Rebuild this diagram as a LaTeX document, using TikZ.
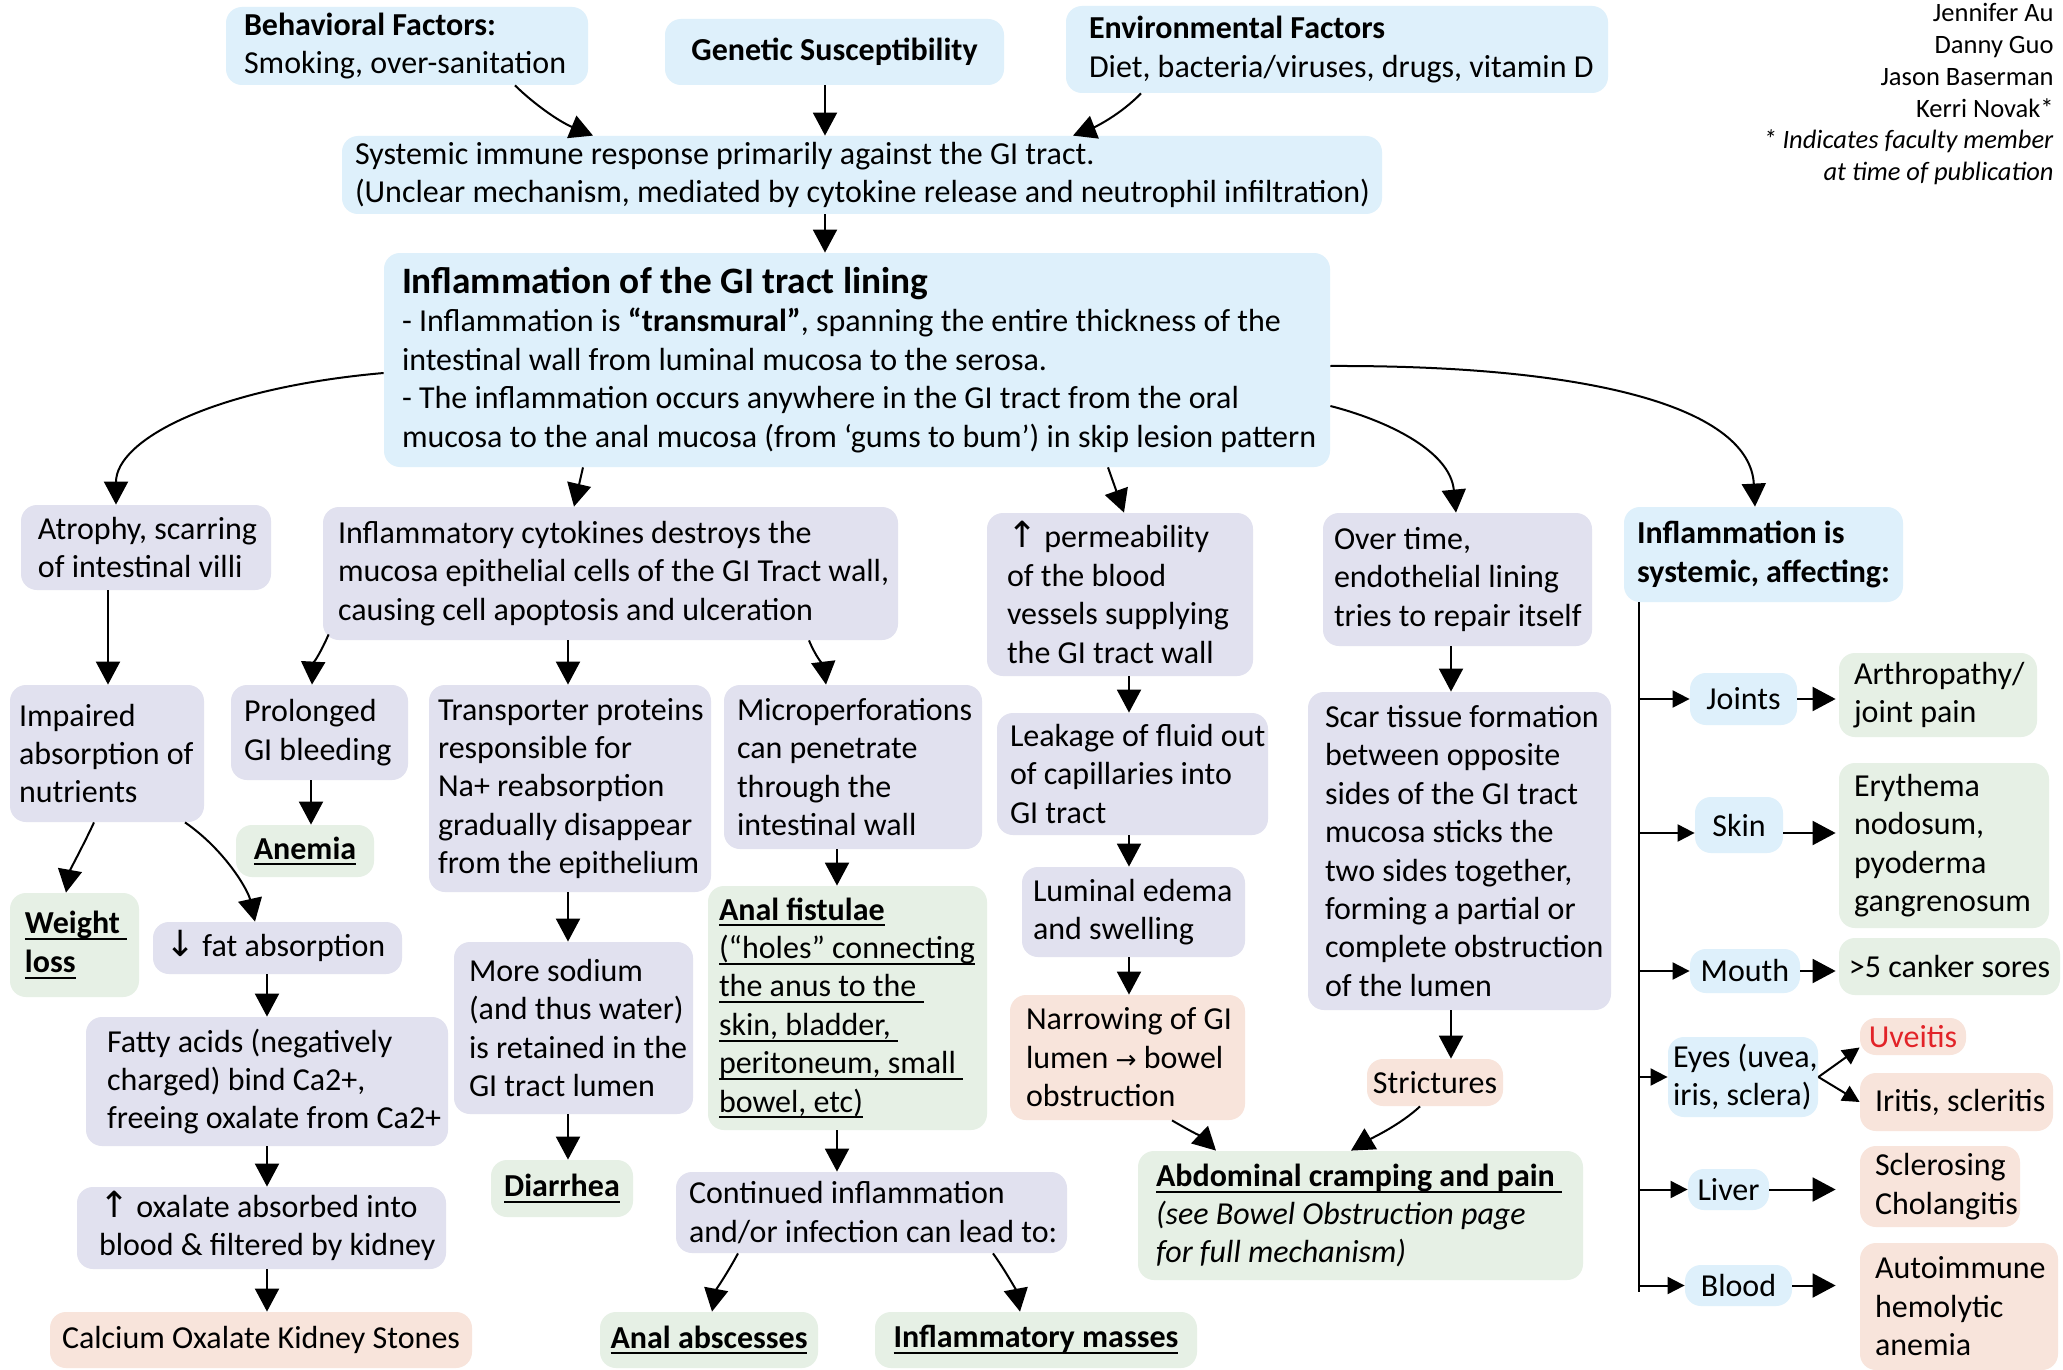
\documentclass[tikz,border=0pt]{standalone}
\usepackage{fontspec}
\setmainfont{Carlito}
\newfontfamily\arrfont{DejaVu Sans}
\newsavebox\ulbox
\newcommand\uline[1]{\sbox\ulbox{#1}\rlap{\rule[-3.2pt]{\wd\ulbox}{1pt}}\usebox\ulbox}
\usetikzlibrary{arrows.meta,calc}
\definecolor{cBlue}{RGB}{222,240,251}
\definecolor{cLav}{RGB}{225,225,239}
\definecolor{cGreen}{RGB}{230,240,229}
\definecolor{cPeach}{RGB}{248,228,219}
\definecolor{cRed}{RGB}{226,35,40}
\newcommand\upar{\smash{\arrfont\fontsize{18}{19}\selectfont ↑}}
\newcommand\dnar{\smash{\arrfont\fontsize{18}{19}\selectfont ↓}}
\newcommand\rtar{{\arrfont\fontsize{12.5}{14}\selectfont →}}
\tikzset{
  box/.style={rounded corners=8pt, inner sep=0pt, draw=none},
  txt/.style={inner sep=0pt, align=left, font=\fontsize{16}{19.2}\selectfont},
  arr/.style={-{Triangle[length=11.5pt,width=12pt]}, line width=1pt},
  sarr/.style={-{Triangle[length=8.5pt,width=8.5pt]}, line width=1pt},
  plainline/.style={line width=1pt},
}
\newcommand\mybox[8][14]{%
  \pgfmathsetmacro\bxw{(#6-#4)*0.5}%
  \pgfmathsetmacro\bxh{(#7-#5)*0.5}%
  \pgfmathsetmacro\bxp{#1*0.5}%
  \node[box,fill=#3,minimum width=\bxw pt,minimum height=\bxh pt] (#2) at ({(#4+#6)/2},{(#5+#7)/2}) {};%
  \node[txt,anchor=west] (#2t) at ([xshift=\bxp pt]#2.west) {#8};%
}
\newcommand\mycbox[8][]{%
  \pgfmathsetmacro\bxw{(#6-#4)*0.5}%
  \pgfmathsetmacro\bxh{(#7-#5)*0.5}%
  \node[box,fill=#3,minimum width=\bxw pt,minimum height=\bxh pt] (#2) at ({(#4+#6)/2},{(#5+#7)/2}) {};%
  \node[txt,align=center,#1] (#2t) at (#2.center) {#8};%
}
\begin{document}
\begin{tikzpicture}[x=0.5pt,y=-0.5pt]
\fill[white] (0,0) rectangle (2063,1370);
\useasboundingbox (0,0) rectangle (2063,1370);

% top row
\mybox[18]{beh}{cBlue}{226}{7}{588}{85}{\textbf{Behavioral Factors:}\\Smoking, over-sanitation}
\mycbox{gen}{cBlue}{665}{19}{1004}{85}{\textbf{Genetic Susceptibility}}
\mybox[23]{env}{cBlue}{1066}{6}{1608}{93}{\textbf{Environmental Factors}\\Diet, bacteria/viruses, drugs, vitamin D}
\mybox[13]{sys}{cBlue}{342}{136}{1382}{214}{Systemic immune response primarily against the GI tract.\\(Unclear mechanism, mediated by cytokine release and neutrophil infiltration)}
\mybox[18]{main}{cBlue}{384}{253}{1330}{467}{{\fontsize{18.65}{22}\selectfont\bfseries Inflammation of the GI tract lining}\\- Inflammation is \textbf{“transmural”}, spanning the entire thickness of the\\intestinal wall from luminal mucosa to the serosa.\\- The inflammation occurs anywhere in the GI tract from the oral\\mucosa to the anal mucosa (from ‘gums to bum’) in skip lesion pattern}

\node[font=\fontsize{13.25}{15.9}\selectfont, align=right, inner sep=0pt, anchor=north east] (auth) at (2054,3) {Jennifer Au\\Danny Guo\\Jason Baserman\\Kerri Novak*\\\textit{* Indicates faculty member}\\\textit{at time of publication}};

% second row
\mybox[17]{atr}{cLav}{21}{505}{271}{590}{Atrophy, scarring\\of intestinal villi}
\mybox[15]{cyto}{cLav}{323}{507}{898}{640}{Inflammatory cytokines destroys the\\mucosa epithelial cells of the GI Tract wall,\\causing cell apoptosis and ulceration}
\mybox[20]{perm}{cLav}{987}{513}{1253}{676}{\upar\ permeability\\of the blood\\vessels supplying\\the GI tract wall}
\mybox[11]{over}{cLav}{1323}{513}{1592}{646}{Over time,\\endothelial lining\\tries to repair itself}
\mybox[13]{syst}{cBlue}{1624}{507}{1903}{602}{\textbf{Inflammation is}\\\textbf{systemic, affecting:}}

% third row
\mybox[9]{imp}{cLav}{10}{685}{204}{822}{Impaired\\absorption of\\nutrients}
\mybox[13]{prol}{cLav}{231}{685}{408}{780}{Prolonged\\GI bleeding}
\mycbox{anem}{cGreen}{236}{825}{374}{877}{\textbf{\uline{Anemia}}}
\mybox[9]{trans}{cLav}{429}{685}{711}{892}{Transporter proteins\\responsible for\\Na+ reabsorption\\gradually disappear\\from the epithelium}
\mybox[13]{micro}{cLav}{724}{685}{982}{849}{Microperforations\\can penetrate\\through the\\intestinal wall}
\mybox[11]{fist}{cGreen}{708}{886}{987}{1130}{\textbf{\uline{Anal fistulae}}\\\uline{(“holes” connecting}\\\uline{the anus to the\ }\\\uline{skin, bladder,\ }\\\uline{peritoneum, small\ }\\\uline{bowel, etc)}}
\mybox[15]{wt}{cGreen}{10}{893}{139}{997}{\textbf{\uline{Weight\ }}\\\textbf{\uline{loss}}}
\mybox[12]{fat}{cLav}{153}{922}{402}{974}{\dnar\ fat absorption}
\mybox[21]{fatty}{cLav}{86}{1017}{448}{1146}{Fatty acids (negatively\\charged) bind Ca2+,\\freeing oxalate from Ca2+}
\mybox[22]{oxal}{cLav}{77}{1187}{446}{1269}{\upar\ oxalate absorbed into\\blood \& filtered by kidney}
\mycbox{calc}{cPeach}{50}{1312}{472}{1368}{Calcium Oxalate Kidney Stones}
\mybox[15]{sod}{cLav}{454}{942}{693}{1114}{More sodium\\(and thus water)\\is retained in the\\GI tract lumen}
\mycbox{diar}{cGreen}{491}{1160}{633}{1217}{\textbf{\uline{Diarrhea}}}
\mybox[13]{cont}{cLav}{676}{1172}{1067}{1253}{Continued inflammation\\and/or infection can lead to:}
\mycbox{absc}{cGreen}{600}{1312}{818}{1368}{\textbf{\uline{Anal abscesses}}}
\mycbox{mass}{cGreen}{875}{1312}{1197}{1368}{\textbf{\uline{Inflammatory masses}}}
\mybox[13]{leak}{cLav}{997}{713}{1268}{835}{Leakage of fluid out\\of capillaries into\\GI tract}
\mybox[11]{lum}{cLav}{1022}{867}{1245}{957}{Luminal edema\\and swelling}
\mybox[16]{narr}{cPeach}{1010}{995}{1245}{1120}{Narrowing of GI\\lumen \rtar\ bowel\\obstruction}
\mybox[17]{scar}{cLav}{1308}{692}{1611}{1010}{Scar tissue formation\\between opposite\\sides of the GI tract\\mucosa sticks the\\two sides together,\\forming a partial or\\complete obstruction\\of the lumen}
\mycbox{strict}{cPeach}{1367}{1059}{1503}{1106}{Strictures}
\mybox[18]{abd}{cGreen}{1138}{1151}{1583}{1280}{\textbf{\uline{Abdominal cramping and pain\ }}\\\textit{(see Bowel Obstruction page}\\\textit{for full mechanism)}}

% right column
\mycbox{joints}{cBlue}{1690}{673}{1797}{725}{Joints}
\mybox[15]{arth}{cGreen}{1839}{653}{2037}{737}{Arthropathy/\\joint pain}
\mycbox{skin}{cBlue}{1695}{797}{1783}{853}{Skin}
\mybox[15]{ery}{cGreen}{1839}{763}{2049}{928}{Erythema\\nodosum,\\pyoderma\\gangrenosum}
\mycbox{mouth}{cBlue}{1690}{949}{1800}{993}{Mouth}
\mycbox{cank}{cGreen}{1839}{938}{2060}{995}{>5 canker sores}
\mybox[5]{eyes}{cBlue}{1668}{1037}{1818}{1117}{Eyes (uvea,\\iris, sclera)}
\mycbox[text=cRed]{uve}{cPeach}{1860}{1018}{1966}{1055}{Uveitis}
\mybox[15]{iri}{cPeach}{1860}{1073}{2053}{1131}{Iritis, scleritis}
\mycbox{liver}{cBlue}{1688}{1169}{1769}{1210}{Liver}
\mybox[15]{scler}{cPeach}{1860}{1146}{2020}{1227}{Sclerosing\\Cholangitis}
\mycbox{blood}{cBlue}{1685}{1265}{1792}{1306}{Blood}
\mybox[15]{auto}{cPeach}{1860}{1243}{2058}{1370}{Autoimmune\\hemolytic\\anemia}

% connectors top
\draw[arr] (beh.south -| 515,0) .. controls (535,105) and (560,122) .. (sys.north -| 593,0);
\draw[arr] (gen.south -| 825,0) -- (sys.north -| 825,0);
\draw[arr] (env.south -| 1141,0) .. controls (1120,115) and (1095,127) .. (sys.north -| 1073,0);
\draw[arr] (sys.south -| 825,0) -- (main.north -| 825,0);
\draw[arr] (main.west |- 0,373) .. controls (213,388) and (116,440) .. (atr.north -| 116,0);
\draw[arr] (main.south -| 583,0) -- (cyto.north -| 574,0);
\draw[arr] (main.south -| 1108,0) -- (perm.north -| 1124,0);
\draw[arr] (main.east |- 0,406) .. controls (1385,420) and (1450,450) .. (over.north -| 1456,0);
\draw[arr] (main.east |- 0,366) .. controls (1600,365) and (1750,410) .. (syst.north -| 1755,0);

% connectors lower left
\draw[arr] (atr.south -| 108,0) -- (imp.north -| 108,0);
\draw[arr] ($(cyto.south west)+(6,-6)$) .. controls (322,650) and (313,665) .. (prol.north -| 312,0);
\draw[arr] (cyto.south -| 568,0) -- (trans.north -| 568,0);
\draw[arr] (cyto.south -| 809,0) .. controls (815,655) and (824,668) .. (micro.north -| 826,0);
\draw[arr] (prol.south -| 311,0) -- (anem.north -| 311,0);
\draw[arr] (micro.south -| 837,0) -- (fist.north -| 837,0);
\draw[arr] (trans.south -| 568,0) -- (sod.north -| 568,0);
\draw[arr] (sod.south -| 568,0) -- (diar.north -| 568,0);
\draw[arr] (fist.south -| 837,0) -- (cont.north -| 837,0);
\draw[arr] (cont.south -| 738,0) .. controls (728,1272) and (716,1290) .. (absc.north -| 712,0);
\draw[arr] (cont.south -| 993,0) .. controls (1005,1270) and (1016,1290) .. (mass.north -| 1020,0);
\draw[arr] (imp.south -| 94,0) .. controls (85,842) and (70,870) .. (wt.north -| 66,0);
\draw[arr] (imp.south -| 185,0) .. controls (225,850) and (248,890) .. (fat.north -| 255,0);
\draw[arr] (fat.south -| 267,0) -- (fatty.north -| 267,0);
\draw[arr] (fatty.south -| 267,0) -- (oxal.north -| 267,0);
\draw[arr] (oxal.south -| 267,0) -- (calc.north -| 267,0);

% connectors middle
\draw[arr] (perm.south -| 1129,0) -- (leak.north -| 1129,0);
\draw[arr] (leak.south -| 1129,0) -- (lum.north -| 1129,0);
\draw[arr] (lum.south -| 1129,0) -- (narr.north -| 1129,0);
\draw[arr] (over.south -| 1451,0) -- (scar.north -| 1451,0);
\draw[arr] (scar.south -| 1451,0) -- (strict.north -| 1451,0);
\draw[arr] (narr.south -| 1172,0) .. controls (1185,1128) and (1203,1138) .. (abd.north -| 1216,0);
\draw[arr] (strict.south -| 1420,0) .. controls (1400,1125) and (1372,1138) .. (abd.north -| 1351,0);

% right column connectors
\coordinate (vbot) at (1639,1292);
\draw[plainline] (syst.south -| vbot) -- (vbot);
\draw[sarr] (vbot |- joints.west) -- (joints.west);
\draw[sarr] (vbot |- 0,833) -- (skin.west |- 0,833);
\draw[sarr] (vbot |- mouth.west) -- (mouth.west);
\draw[sarr] (vbot |- eyes.west) -- (eyes.west);
\draw[sarr] (vbot |- liver.west) -- (liver.west);
\draw[sarr] (vbot |- blood.west) -- (blood.west);
\draw[arr] (joints.east) -- ($(joints.east -| arth.west)+(-3,0)$);
\draw[arr] (skin.east |- 0,833) -- ($(ery.west |- 0,833)+(-3,0)$);
\draw[arr] (mouth.east) -- ($(mouth.east -| cank.west)+(-3,0)$);
\draw[sarr] (eyes.east) -- ($(uve.west)+(0,11)$);
\draw[sarr] (eyes.east) -- (iri.west);
\draw[arr] (liver.east) -- ($(liver.east -| scler.west)+(-24,0)$);
\draw[arr] (blood.east) -- ($(blood.east -| auto.west)+(-24,0)$);
\end{tikzpicture}
\end{document}
